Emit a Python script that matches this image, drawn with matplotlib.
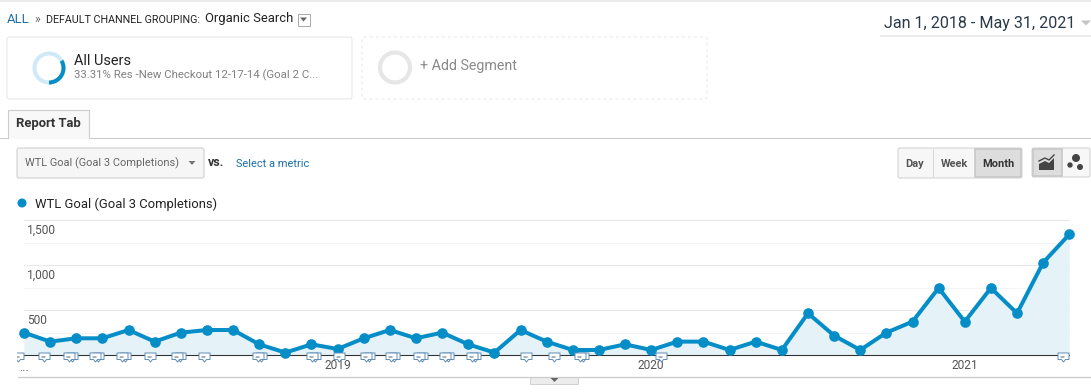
import matplotlib
matplotlib.use('Agg')
import matplotlib.pyplot as plt
from matplotlib.patches import Rectangle, FancyBboxPatch, Polygon, Wedge, Circle
from matplotlib.path import Path
from matplotlib.transforms import Bbox, IdentityTransform, TransformedBbox, offset_copy

plt.rcParams['font.family'] = ['Roboto', 'DejaVu Sans']

# monthly values, Jan 2018 - May 2021
goal3 = [252, 152, 189, 189, 281, 152, 252, 281, 281, 122, 30, 122, 70,
         189, 281, 189, 252, 122, 30, 281, 152, 59, 59, 122, 59, 152, 152,
         59, 152, 59, 467, 219, 59, 252, 374, 748, 374, 748, 467, 1030, 1344]
months = list(range(len(goal3)))

major_ticks = [500, 1000, 1500]
major_labels = ['500', '1,000', '1,500']
minor_ticks = [250, 750, 1250]
year_months = [12, 24, 36]
year_labels = ['2019', '2020', '2021']

# annotation bubbles, position in months
note_single = [-0.22, 0.77, 4.82, 6.89, 12.06, 19.21, 20.28, 24.37, 39.76]
note_double = [1.76, 2.76, 3.80, 5.90, 9.00, 11.05, 13.11, 14.09, 15.16,
               16.15, 17.20, 21.30]

BLUE = '#058dc7'
LINK = '#1a6fa8'
W, H = 1091, 392
px = 0.72  # pixels to points at dpi 100

fig = plt.figure(figsize=(W / 100, H / 100), dpi=100)

# page furniture, drawn in pixel coordinates
ui = fig.add_axes([0, 0, 1, 1])
ui.set_xlim(0, W)
ui.set_ylim(H, 0)
ui.axis('off')


def label(x, y, s, size, color='#222222', **kw):
    kw.setdefault('va', 'center')
    ui.text(x, y, s, fontsize=size * px, color=color, **kw)


def box(x0, y0, x1, y1, face='white', edge='#dddddd', dash=None, pad=2, lw=1, z=1):
    p = FancyBboxPatch((x0 + pad, y0 + pad), x1 - x0 - 2 * pad, y1 - y0 - 2 * pad,
                       boxstyle='round,pad=%d,rounding_size=%d' % (pad, pad),
                       fc=face, ec=edge, lw=lw * px, zorder=z)
    if dash:
        p.set_linestyle(dash)
    ui.add_patch(p)


def tri(x, y, w, h, color):
    ui.add_patch(Polygon([(x - w / 2, y - h / 2), (x + w / 2, y - h / 2), (x, y + h / 2)],
                         fc=color, ec='none', zorder=5))


ui.plot([0, W], [0.5, 0.5], color='#e6e6e6', lw=1.2)

# breadcrumb
label(7, 19, 'ALL', 13, LINK)
label(34, 19, '»', 12, '#666666')
label(46, 19.5, 'DEFAULT CHANNEL GROUPING:', 10.8, '#222222')
label(205, 18.5, 'Organic Search', 13, '#222222')
ui.add_patch(Rectangle((297.5, 13.5), 12, 12, fc='white', ec='#aaaaaa', lw=0.7))
tri(303.5, 19.5, 7, 4, '#666666')

# date range
label(884, 23, 'Jan 1, 2018 - May 31, 2021', 16.1, '#2b3a4a')
tri(1086, 23, 10, 5, '#c4c4c4')
ui.plot([881, W], [35.5, 35.5], color='#ececec', lw=1.5)

# segment cards
box(7, 37, 352, 99, edge='#e6e6e6')
ui.add_patch(Wedge((49, 68), 16.5, 90 - 360, 90, width=4, fc='#cfe9f6', ec='none'))
ui.add_patch(Wedge((49, 68), 16.5, 90 - 120, 90, width=4, fc=BLUE, ec='none'))
label(74, 60.5, 'All Users', 14.5, '#222222')
label(74, 75.5, '33.31% Res -New Checkout 12-17-14 (Goal 2 C...', 11.4, '#808080')

box(362, 37, 707, 99, edge='#e8e8e8', dash=(0, (3, 3)))
ui.add_patch(Circle((395, 67.5), 15, fc='none', ec='#e6e6e6', lw=3))
label(420, 65.5, '+ Add Segment', 14.2, '#8a8a8a')

# tab strip
ui.plot([0, 7], [137.5, 137.5], color='#cccccc', lw=0.8)
ui.plot([89, W], [137.5, 137.5], color='#cccccc', lw=0.8)
ui.add_patch(Rectangle((7.5, 109.5), 81, 29, fc='#f8f8f8', ec='none', zorder=2))
ui.plot([7.5, 7.5, 88.5, 88.5], [137.5, 109.5, 109.5, 137.5], color='#cccccc', lw=0.8, zorder=3)
label(48, 123.5, 'Report Tab', 13, '#333333', ha='center', fontweight='bold', zorder=4)

# metric selector
box(17, 148, 204, 178, face='#f6f6f6', edge='#cccccc')
label(25, 163.5, 'WTL Goal (Goal 3 Completions)', 11, '#666666')
tri(192, 163, 7, 4, '#777777')
label(208, 162, 'vs.', 12.5, '#333333', fontweight='bold')
label(236, 163.5, 'Select a metric', 11, LINK)

# day / week / month buttons
box(898, 148, 1022, 178, face='#f7f7f7', edge='#d0d0d0')
ui.add_patch(Rectangle((975, 149), 46, 28, fc='#dddddd', ec='#c8c8c8', lw=1.2, zorder=2))
ui.plot([932.5, 932.5], [149, 177], color='#d8d8d8', lw=0.7, zorder=3)
label(915, 163.5, 'Day', 11, '#555555', ha='center', fontweight='bold', zorder=4)
label(954, 163.5, 'Week', 11, '#555555', ha='center', fontweight='bold', zorder=4)
label(998, 163.5, 'Month', 11, '#333333', ha='center', fontweight='bold', zorder=4)

box(1032, 148, 1090, 177, face='#f7f7f7', edge='#d0d0d0')
ui.add_patch(Rectangle((1033, 149), 29, 27, fc='#dddddd', ec='#c8c8c8', lw=1.2, zorder=2))
ui.add_patch(Polygon([(1039, 170), (1039, 164), (1045, 161), (1049, 163), (1054, 158),
                      (1054, 170)], fc='#444444', ec='none', zorder=4))
ui.plot([1039, 1045, 1049, 1054], [161, 158, 160, 155], color='#444444', lw=1, zorder=4)
for cx, cy, r in [(1076, 158, 4), (1070, 165, 2.7), (1080, 167, 3)]:
    ui.add_patch(Circle((cx, cy), r, fc='#444444', ec='none', zorder=4))

# legend
ui.add_patch(Circle((22, 203), 4.5, fc=BLUE, ec='none'))
label(35, 204, 'WTL Goal (Goal 3 Completions)', 13, '#222222')

# footer line and drawer handle
ui.plot([18, W], [376.5, 376.5], color='#cccccc', lw=0.9)
ui.add_patch(Rectangle((529.5, 376.5), 48, 7, fc='#ececec', ec='#cccccc', lw=0.6))
tri(554.5, 380, 8, 4, '#666666')

# chart
left, right, top, bottom = 24, 1069.3, 220.3, 355.3
ax = fig.add_axes([left / W, 1 - bottom / H, (right - left) / W, (bottom - top) / H])
ax.patch.set_alpha(0)
ax.set_xlim(0, 40)
ax.set_ylim(0, 1500)
for s in ax.spines.values():
    s.set_visible(False)
ax.set_yticks([])
ax.set_xticks(year_months, year_labels)
ax.tick_params(axis='x', length=0, pad=3, labelsize=12 * px, labelcolor='#555555')

for v in major_ticks:
    ax.axhline(v, color='#e8e8e8', lw=1.1 * px, zorder=1, clip_on=False)
for v in minor_ticks:
    ax.axhline(v, color='#f4f4f4', lw=1 * px, zorder=1, clip_on=False)
for v, s in zip(major_ticks, major_labels):
    ax.annotate(s, (0, v), xytext=(3, -10), textcoords='offset pixels', va='center',
                fontsize=12 * px, color='#555555', zorder=6)
ax.annotate('...', (0, 0), xytext=(0, -12), textcoords='offset pixels', ha='center',
            va='center', fontsize=12 * px, color='#555555', annotation_clip=False)

ax.fill_between(months, goal3, 0, color='#e5f2f8', lw=0, zorder=2)
ax.axhline(0, color='#333333', lw=1.1 * px, zorder=3, clip_on=False)
ax.plot(months, goal3, color=BLUE, lw=4 * px, marker='o', ms=9.2 * px, zorder=4, clip_on=False)

# annotation bubbles
bubble = Path([(-5.5, 3.5), (5.5, 3.5), (5.5, -3), (2, -3), (0, -5.5), (-2, -3), (-5.5, -3), (-5.5, 3.5)],
              closed=True)
dashes = Path([(-3.5, 1.4), (3.5, 1.4), (3.5, 0.6), (-3.5, 0.6), (-3.5, 1.4),
               (-3.5, -0.4), (1, -0.4), (1, -1.2), (-3.5, -1.2), (-3.5, -0.4),
               (-5.5, 5.5), (-5.5, 5.5), (5.5, -5.5), (5.5, -5.5)],
              [Path.MOVETO, Path.LINETO, Path.LINETO, Path.LINETO, Path.CLOSEPOLY,
               Path.MOVETO, Path.LINETO, Path.LINETO, Path.LINETO, Path.CLOSEPOLY,
               Path.MOVETO, Path.LINETO, Path.MOVETO, Path.LINETO])
clip = TransformedBbox(Bbox([[17, 0], [W, H]]), IdentityTransform())


def notes(xs, dx, dy, z, glyph=True):
    tr = offset_copy(ax.transData, fig=fig, x=dx, y=dy, units='dots')
    ys = [0] * len(xs)
    a, = ax.plot(xs, ys, ls='none', marker=bubble, ms=11 * px, mfc='white', mec='#5f8db5',
                 mew=0.7, transform=tr, zorder=z, clip_on=True)
    a.set_clip_box(clip)
    a.set_clip_path(None)
    if glyph:
        b, = ax.plot(xs, ys, ls='none', marker=dashes, ms=11 * px, mfc='#44688a', mec='none',
                     transform=tr, zorder=z + 0.1, clip_on=True)
        b.set_clip_box(clip)
        b.set_clip_path(None)


notes(note_double, 2, -1, 5, glyph=False)
notes(note_double, -1, -1, 5.2)
notes(note_single, 0, -1, 5.2)

fig.savefig('out.png', dpi=100)
